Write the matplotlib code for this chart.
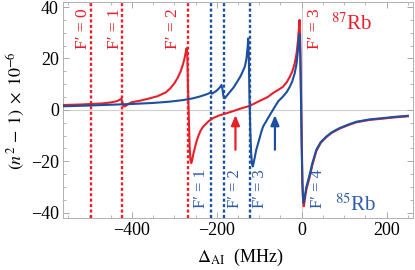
import matplotlib
matplotlib.use("Agg")
import matplotlib.pyplot as plt
from matplotlib.ticker import MultipleLocator

plt.rcParams['font.family'] = ['Liberation Serif', 'DejaVu Serif']
plt.rcParams['mathtext.fontset'] = 'stix'
plt.rcParams['axes.unicode_minus'] = True

# ---- data ----
rb87_x = [-560, -520, -496, -470, -450, -435, -428, -425, -423, -421, -418, -414,
          -405, -400, -380, -360, -340, -320, -310, -300, -292, -285, -280, -276,
          -273, -271, -269.5, -268, -266, -264, -262, -260, -258, -255, -252, -248,
          -244, -238, -232, -220, -209, -195, -177, -160, -146, -122, -99, -80, -68,
          -55, -44, -35, -28, -22, -16.5, -12, -8.6, -6.5, -5, -3.5, -2, 0, 2, 3.5,
          5, 6.5, 8.5, 11, 15, 19, 25, 34.5, 45, 58, 70, 89, 110, 129, 160, 191,
          220, 250]
rb87_y = [1.9, 2.1, 2.3, 2.5, 2.9, 3.4, 4.0, 4.3, 3.5, 2.0, 1.3, 1.6,
          2.6, 3.0, 3.6, 4.4, 5.3, 6.8, 8.3, 10.3, 12.5, 15.0, 17.5, 20.0,
          22.5, 24.0, 22.0, 10.0, -2.0, -14.0, -19.5, -20.7, -19.5, -17.0, -15.0, -12.5,
          -10.4, -8.0, -6.5, -4.5, -3.2, -2.2, -1.3, -0.4, 0.4, 1.6, 3.5, 5.0, 6.5,
          7.8, 9.0, 10.8, 12.9, 15.0, 18.1, 22.0, 27.2, 32.0, 35.0, 28.0, 12.0, -12.0, -30.0, -36.0,
          -37.5, -36.0, -33.5, -31.0, -28.5, -26.0, -21.5, -16.0, -12.8, -10.6, -9.0, -7.3, -5.9, -4.8, -3.9, -3.4,
          -2.9, -2.5]

rb85_x = [-560, -500, -450, -400, -350, -311, -280, -256, -240, -225, -216, -214,
          -212, -210, -200, -193, -189, -187, -185, -183, -181, -178, -170, -160,
          -154, -145, -140, -134, -130, -127, -126, -124.5, -123, -121, -119, -117,
          -115, -113, -110, -107, -100, -95, -91, -85, -75, -63, -55, -44, -35, -28,
          -22, -16.5, -12, -8.7, -6.5, -5, -3.5, -2, 0, 1.5, 3, 4.5, 6, 8.5, 11, 15,
          19, 25, 34.5, 45, 58, 70, 89, 110, 129, 160, 191, 220, 250]
rb85_y = [1.4, 1.7, 2.0, 2.3, 2.7, 3.2, 3.8, 4.5, 5.2, 6.0, 6.6, 6.9,
          6.3, 6.4, 7.5, 8.7, 9.7, 8.5, 6.0, 4.6, 4.5, 5.2, 6.8, 8.8,
          10.4, 12.8, 14.5, 16.8, 20.0, 25.0, 27.8, 20.0, 5.0, -8.0, -17.0, -21.0,
          -22.0, -20.5, -18.0, -15.5, -11.5, -8.5, -6.5, -4.8, -2.0, 1.3, 3.4, 5.2, 7.0, 9.0,
          11.2, 14.2, 18.0, 23.3, 28.5, 29.5, 22.0, 8.0, -14.0, -28.0, -34.0, -36.0, -35.0, -32.5, -30.0, -27.5,
          -25.0, -20.8, -15.5, -12.5, -10.4, -8.8, -7.1, -5.7, -4.6, -3.7, -3.2, -2.7, -2.3]

rb87_lines = [-496, -424, -267, 0]
rb87_labels = ["F′ = 0", "F′ = 1", "F′ = 2", "F′ = 3"]
rb87_label_x = [-515, -440, -303, 31]

rb85_lines = [-213, -184, -121, 0]
rb85_labels = ["F′ = 1", "F′ = 2", "F′ = 3", "F′ = 4"]
rb85_label_x = [-236, -158, -99, 38]

arrow_x = [-156, -63]
arrow_y = [-15.5, -2.0]

xticks = [-400, -200, 0, 200]
yticks = [-40, -20, 0, 20, 40]

RED = '#e8202a'
BLUE = '#1c4f9f'
BLUE_TXT = '#2f5ba8'

fig = plt.figure(figsize=(4.15, 2.70), dpi=100)
ax = fig.add_axes([0.152, 0.193, 0.843, 0.800])
ax.set_xlim(-562, 262)
ax.set_ylim(-42, 42)

ax.axhline(0, color='#cfcfcf', lw=0.8, zorder=0)
ax.axvline(0, color='#cfcfcf', lw=0.8, zorder=0)

# dotted resonance markers (red: 87Rb except F'=3, blue: 85Rb except F'=4)
for x in rb87_lines[:3]:
    ax.axvline(x, color=RED, lw=1.7, ls=(0, (1.3, 1.0)), zorder=1)
for x in rb85_lines[:3]:
    ax.axvline(x, color=BLUE, lw=1.7, ls=(0, (1.3, 1.0)), zorder=1)

ax.plot(rb87_x, rb87_y, color=RED, lw=1.5, zorder=3, solid_joinstyle='round')
ax.plot(rb85_x, rb85_y, color=BLUE, lw=1.5, zorder=4, solid_joinstyle='round')

for lx, lab in zip(rb87_label_x, rb87_labels):
    ax.text(lx, 31.5, lab, color=RED, rotation=90, ha='center', va='center', fontsize=12.5)
for lx, lab in zip(rb85_label_x, rb85_labels):
    ax.text(lx, -30.5, lab, color=BLUE_TXT, rotation=90, ha='center', va='center', fontsize=12)

ax.text(68, 33.5, r'$^{87}$Rb', color=RED, fontsize=15, ha='left', va='center')
ax.text(78, -37.0, r'$^{85}$Rb', color=BLUE_TXT, fontsize=15, ha='left', va='center')

for ax_x, col in zip(arrow_x, [RED, BLUE]):
    ax.annotate('', xy=(ax_x, arrow_y[1]), xytext=(ax_x, arrow_y[0]),
                arrowprops=dict(arrowstyle='-|>,head_length=0.6,head_width=0.25',
                                color=col, lw=1.6, shrinkA=0, shrinkB=0))

ax.set_xticks(xticks)
ax.set_yticks(yticks)
ax.set_xticklabels([f"{t}".replace('-', '−') for t in xticks])
ax.set_yticklabels([f"{t}".replace('-', '−') for t in yticks])
ax.xaxis.set_minor_locator(MultipleLocator(50))
ax.yaxis.set_minor_locator(MultipleLocator(5))
ax.tick_params(which='both', direction='in', color='#a8a8a8', top=True, right=True,
               labelsize=13, pad=3)
ax.tick_params(which='major', length=4, width=0.7)
ax.tick_params(which='minor', length=2.2, width=0.6)
for s in ax.spines.values():
    s.set_color('#b0b0b0')
    s.set_linewidth(0.7)

fig.text(0.038, 0.59, r'$(n^2\,-\,1)\;\times\;10^{-6}$', rotation=90, ha='center', va='center',
         fontsize=13)
fig.text(0.578, 0.045, r'$\Delta_{\rm AI}$  (MHz)', ha='center', va='center', fontsize=13)

fig.savefig('out.png', dpi=100)
